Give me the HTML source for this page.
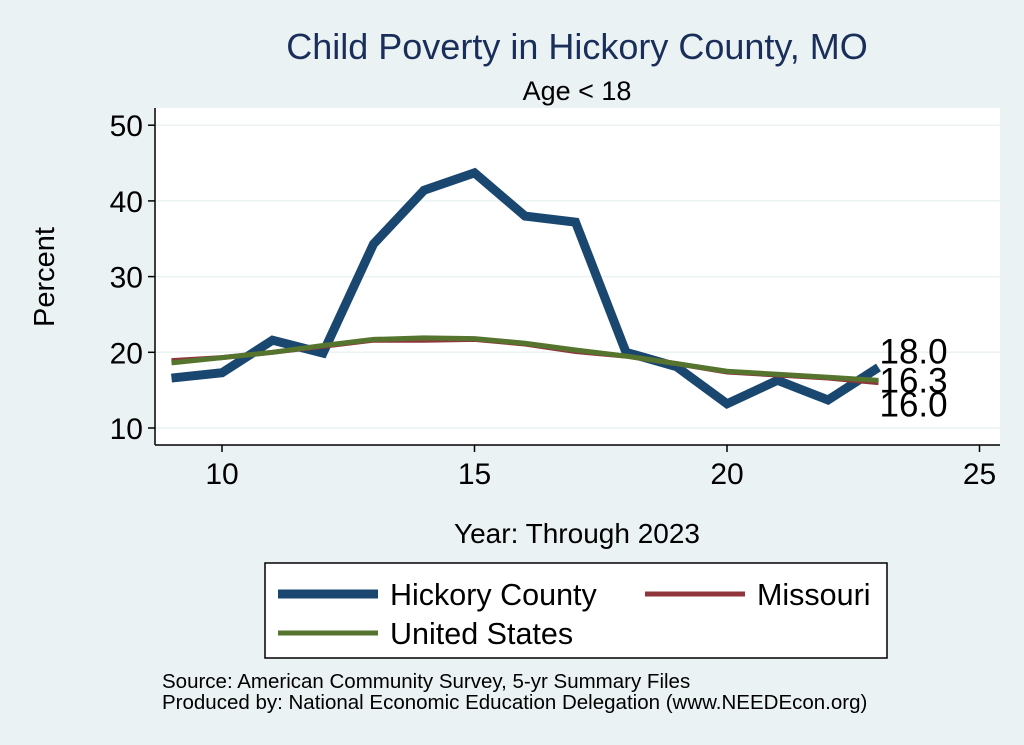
<!DOCTYPE html>
<html><head><meta charset="utf-8"><style>
body{margin:0;background:#eaf2f3;}
svg{display:block;font-family:"Liberation Sans",Arial,sans-serif;}
</style></head><body>
<svg id="chart" width="1024" height="745">
<rect x="0" y="0" width="1024" height="745" fill="#eaf2f3"/>
<rect x="155" y="108" width="845" height="337" fill="#ffffff"/>
<text x="577" y="59" font-size="36" fill="#1a2e5a" text-anchor="middle">Child Poverty in Hickory County, MO</text>
<text x="577" y="100" font-size="27" fill="#000" text-anchor="middle">Age &lt; 18</text>
<text x="54" y="277" font-size="29" fill="#000" text-anchor="middle" transform="rotate(-90 54 277)">Percent</text>
<text x="577" y="543" font-size="28" fill="#000" text-anchor="middle">Year: Through 2023</text>
<g id="grid"></g><g id="axes"></g><g id="series"></g><g id="labels"></g>
<rect x="265" y="563" width="622" height="95" fill="#fff" stroke="#000" stroke-width="1.5"/>
<g><line x1="278" y1="594" x2="378" y2="594" stroke="#1a476f" stroke-width="9"/><text x="390" y="605" font-size="30.5">Hickory County</text></g>
<g><line x1="645" y1="594" x2="745" y2="594" stroke="#90353b" stroke-width="5"/><text x="757" y="605" font-size="30.5">Missouri</text></g>
<g><line x1="278" y1="633" x2="378" y2="633" stroke="#55752f" stroke-width="5"/><text x="390" y="644" font-size="30.5">United States</text></g>
<text x="162" y="688" font-size="20.5">Source: American Community Survey, 5-yr Summary Files</text>
<text x="162" y="709" font-size="20.5">Produced by: National Economic Education Delegation (www.NEEDEcon.org)</text>
</svg>
<script>
const years=[9,10,11,12,13,14,15,16,17,18,19,20,21,22,23];
const hickory=[16.6,17.3,21.6,19.9,34.3,41.4,43.7,38.0,37.2,20.0,18.1,13.2,16.3,13.7,18.0];
const missouri=[18.9,19.3,20.0,20.8,21.6,21.6,21.7,21.1,20.1,19.5,18.5,17.4,17.0,16.6,16.0];
const us=[18.6,19.3,20.0,20.9,21.7,21.9,21.8,21.2,20.3,19.5,18.5,17.5,17.1,16.7,16.3];
const xTicks=[10,15,20,25];
const yTicks=[10,20,30,40,50];
const NS="http://www.w3.org/2000/svg";
const X=v=>222+(v-10)*50.5;
const Y=v=>428-(v-10)*7.57;
function mk(t,a,p){const e=document.createElementNS(NS,t);for(const k in a)e.setAttribute(k,a[k]);document.getElementById(p).appendChild(e);return e;}
yTicks.forEach(t=>{
 const g=mk('line',{x1:155,x2:1000,y1:Y(t),y2:Y(t),stroke:'#eaf2f3','stroke-width':1.5},'grid');
 
 
 const tk=mk('line',{x1:148,x2:155,y1:Y(t),y2:Y(t),stroke:'#000','stroke-width':1.5},'axes');
 
 
 const l=mk('text',{x:143,y:Y(t)+11,'font-size':30,'text-anchor':'end'},'axes');l.textContent=t;
 
 
});
xTicks.forEach(t=>{
 const tk=mk('line',{x1:X(t),x2:X(t),y1:445,y2:452,stroke:'#000','stroke-width':1.5},'axes');
 
 
 const l=mk('text',{x:X(t),y:484,'font-size':30,'text-anchor':'middle'},'axes');l.textContent=t;
 
 
});
const ya=mk('line',{x1:155,x2:155,y1:108,y2:445,stroke:'#000','stroke-width':1.5},'axes');


const xa=mk('line',{x1:155,x2:1000,y1:445,y2:445,stroke:'#000','stroke-width':1.5},'axes');


function line(vals,color,w,name){
 const p=mk('polyline',{points:vals.map((v,i)=>X(years[i])+','+Y(v)).join(' '),fill:'none',stroke:color,'stroke-width':w,'stroke-linejoin':'miter'},'series');
 
 
}
line(hickory,'#1a476f',9,'hickory-line');
line(missouri,'#90353b',5,'missouri-line');
line(us,'#55752f',5,'us-line');
const last=years.length-1;
[[hickory,'hickory-end-label',-4],[us,'us-end-label',12],[missouri,'missouri-end-label',34]].forEach(([s,n,off])=>{
 const t=mk('text',{x:X(years[last])+1,y:Y(s[last])+off,'font-size':35},'labels');
 t.textContent=s[last].toFixed(1);
 
 
});
</script>
</body></html>
